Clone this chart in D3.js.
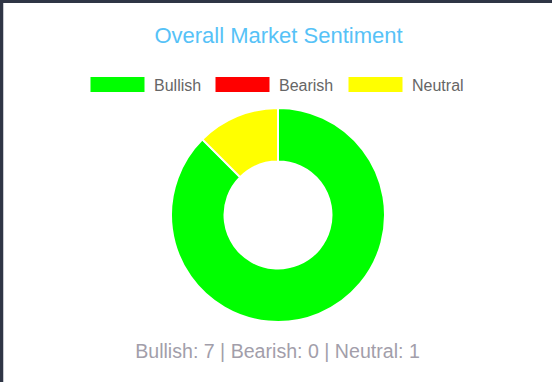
<!DOCTYPE html>
<html>
<head>
<meta charset="utf-8">
<script src="https://cdn.jsdelivr.net/npm/d3@7"></script>
<style>
  html, body { margin: 0; padding: 0; background: #2f3545; }
  body { width: 552px; height: 382px; overflow: hidden; position: relative; }
  svg { position: absolute; left: 0; top: 0; }
</style>
</head>
<body>
<svg id="chart" width="552" height="382"></svg>
<script>
const categories = ["Bullish", "Bearish", "Neutral"];
const values = [7, 0, 1];
const colors = ["#00ff00", "#ff0000", "#ffff00"];
const titleText = "Overall Market Sentiment";

const svg = d3.select("#chart");
const W = 552, H = 382;

// card
svg.append("rect").attr("x", 3).attr("y", 3).attr("width", W).attr("height", H)
  .attr("fill", "#ffffff");
svg.append("line").attr("x1", 3.5).attr("x2", 3.5).attr("y1", 3).attr("y2", H)
  .attr("stroke", "#c8cad0").attr("stroke-width", 1);

const font = "'Liberation Sans', Arial, Helvetica, sans-serif";

// title
svg.append("text").attr("x", 278.5).attr("y", 43)
  .attr("text-anchor", "middle")
  .attr("font-family", font).attr("font-size", 22)
  .attr("fill", "#56c2f7")
  .text(titleText);

// legend
const legendX = d3.scalePoint().domain(categories).range([91, 349]);
const legendXs = [91, 216, 349];
const lg = svg.append("g");
categories.forEach((c, i) => {
  const x = legendXs[i];
  lg.append("rect").attr("x", x).attr("y", 77.5).attr("width", 53).attr("height", 14)
    .attr("fill", colors[i]).attr("stroke", colors[i]).attr("stroke-width", 1);
  lg.append("text").attr("x", x + 63).attr("y", 91)
    .attr("font-family", font).attr("font-size", 16).attr("fill", "#666666")
    .text(c);
});

// donut
const cx = 278, cy = 215, outerR = 107, innerR = 53.5;
const pie = d3.pie().sort(null).value(d => d)(values);
const arc = d3.arc().innerRadius(innerR).outerRadius(outerR);
const g = svg.append("g").attr("transform", `translate(${cx},${cy})`);
g.selectAll("path").data(pie).join("path")
  .attr("d", arc)
  .attr("fill", (d, i) => colors[i])
  .attr("stroke", "#ffffff")
  .attr("stroke-width", d => d.value > 0 ? 2 : 0);

// summary
const summary = categories.map((c, i) => `${c}: ${values[i]}`).join(" | ");
svg.append("text").attr("x", 277.5).attr("y", 358)
  .attr("text-anchor", "middle")
  .attr("font-family", font).attr("font-size", 19.6)
  .attr("fill", "#a29eaa")
  .text(summary);
</script>
</body>
</html>
